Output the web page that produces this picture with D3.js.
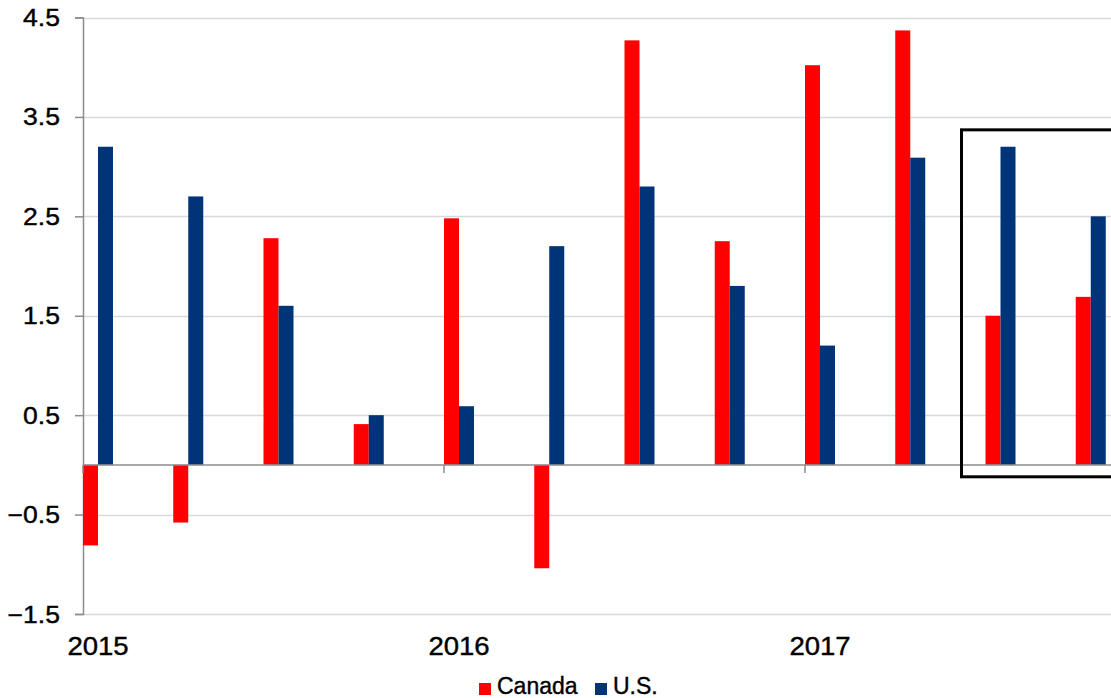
<!DOCTYPE html>
<html>
<head>
<meta charset="utf-8">
<script src="https://cdn.jsdelivr.net/npm/d3@7/dist/d3.min.js"></script>
<style>
  body { margin: 0; background: #fff; }
  text { font-family: "Liberation Sans", Arial, sans-serif; fill: #000; }
</style>
</head>
<body>
<div id="chart"></div>
<script>
var quarters = ["2015Q1", "2015Q2", "2015Q3", "2015Q4",
                "2016Q1", "2016Q2", "2016Q3", "2016Q4",
                "2017Q1", "2017Q2", "2017Q3", "2017Q4"];
var yearLabels = ["2015", "2016", "2017"];
var yearStarts = ["2015Q1", "2016Q1", "2017Q1"];
var seriesNames = ["Canada", "U.S."];
var canada = [-0.81, -0.58, 2.28, 0.41, 2.48, -1.04, 4.27, 2.25, 4.02, 4.37, 1.5, 1.69];
var us = [3.2, 2.7, 1.6, 0.5, 0.59, 2.2, 2.8, 1.8, 1.2, 3.09, 3.2, 2.5];
var yTicks = [-1.5, -0.5, 0.5, 1.5, 2.5, 3.5, 4.5];
var highlight = ["2017Q3", "2017Q4"];

var width = 1111, height = 698;
var colors = {"Canada": "#ff0000", "U.S.": "#003478"};

var svg = d3.select("#chart").append("svg")
    .attr("width", width)
    .attr("height", height);

var left = 83;
var x = d3.scaleBand()
    .domain(quarters)
    .range([left, left + 12 * 90.25]);

var xs = d3.scaleBand()
    .domain(seriesNames)
    .range([0, 30]);

var y = d3.scaleLinear()
    .domain([-1.5, 4.5])
    .range([614, 17.5]);

// gridlines
svg.append("g")
    .selectAll("line")
    .data(yTicks)
    .enter().append("line")
    .attr("x1", left)
    .attr("x2", width)
    .attr("y1", function(d) { return Math.round(y(d)) + 0.5; })
    .attr("y2", function(d) { return Math.round(y(d)) + 0.5; })
    .attr("stroke", "#d9d9d9")
    .attr("stroke-width", 1.5);

// y axis (line + ticks from d3, labels drawn below)
var yAxis = svg.append("g")
    .attr("transform", "translate(" + left + ",0)")
    .call(d3.axisLeft(y).tickValues(yTicks).tickSize(8).tickFormat(""));
yAxis.select(".domain").attr("stroke", "#8c8c8c").attr("stroke-width", 1.5);
yAxis.selectAll(".tick line").attr("stroke", "#8c8c8c").attr("stroke-width", 1.5);

svg.append("g")
    .selectAll("text")
    .data(yTicks)
    .enter().append("text")
    .attr("transform", function(d) { return "translate(60," + (y(d) + 8.5) + ") scale(1.13,1)"; })
    .attr("text-anchor", "end")
    .style("font-size", "23.5px")
    .style("stroke", "#000")
    .style("stroke-width", "0.4px")
    .text(function(d) { return d3.format(".1f")(d); });

// bars
var rows = quarters.map(function(q, i) {
    return {q: q, values: [{s: "Canada", v: canada[i]}, {s: "U.S.", v: us[i]}]};
});

svg.append("g")
    .selectAll("g")
    .data(rows)
    .enter().append("g")
    .attr("transform", function(d) { return "translate(" + x(d.q) + ",0)"; })
    .selectAll("rect")
    .data(function(d) { return d.values; })
    .enter().append("rect")
    .attr("x", function(d) { return xs(d.s); })
    .attr("width", xs.bandwidth())
    .attr("y", function(d) { return y(Math.max(0, d.v)); })
    .attr("height", function(d) { return Math.abs(y(d.v) - y(0)); })
    .attr("fill", function(d) { return colors[d.s]; });

// zero line
svg.append("line")
    .attr("x1", left).attr("x2", width)
    .attr("y1", y(0)).attr("y2", y(0))
    .attr("stroke", "#8c8c8c")
    .attr("stroke-width", 1.5);

// year ticks
svg.append("g")
    .selectAll("line")
    .data(yearStarts)
    .enter().append("line")
    .attr("x1", function(d) { return x(d); })
    .attr("x2", function(d) { return x(d); })
    .attr("y1", y(0))
    .attr("y2", y(0) + 8)
    .attr("stroke", "#8c8c8c")
    .attr("stroke-width", 1.5);

// year labels
svg.append("g")
    .selectAll("text")
    .data(yearLabels)
    .enter().append("text")
    .attr("transform", function(d, i) { return "translate(" + (x(yearStarts[i]) + 15) + ",655) scale(1.08,1)"; })
    .attr("text-anchor", "middle")
    .style("font-size", "25.5px")
    .style("stroke", "#000")
    .style("stroke-width", "0.4px")
    .text(function(d) { return d; });

// highlight box
var hx = x(highlight[0]) - 24;
svg.append("rect")
    .attr("x", hx)
    .attr("y", y(3.37))
    .attr("width", x(highlight[1]) + 90 - hx)
    .attr("height", y(-0.12) - y(3.37))
    .attr("fill", "none")
    .attr("stroke", "#000")
    .attr("stroke-width", 3);

// legend
var legend = svg.append("g")
    .selectAll("g")
    .data(seriesNames)
    .enter().append("g")
    .attr("transform", function(d, i) { return "translate(" + (479 + i * 116) + ",683)"; });
legend.append("rect")
    .attr("width", 12).attr("height", 12)
    .attr("fill", function(d) { return colors[d]; });
legend.append("text")
    .attr("x", 18)
    .attr("y", 11)
    .style("font-size", "23px")
    .style("stroke", "#000")
    .style("stroke-width", "0.4px")
    .text(function(d) { return d; });
</script>
</body>
</html>
